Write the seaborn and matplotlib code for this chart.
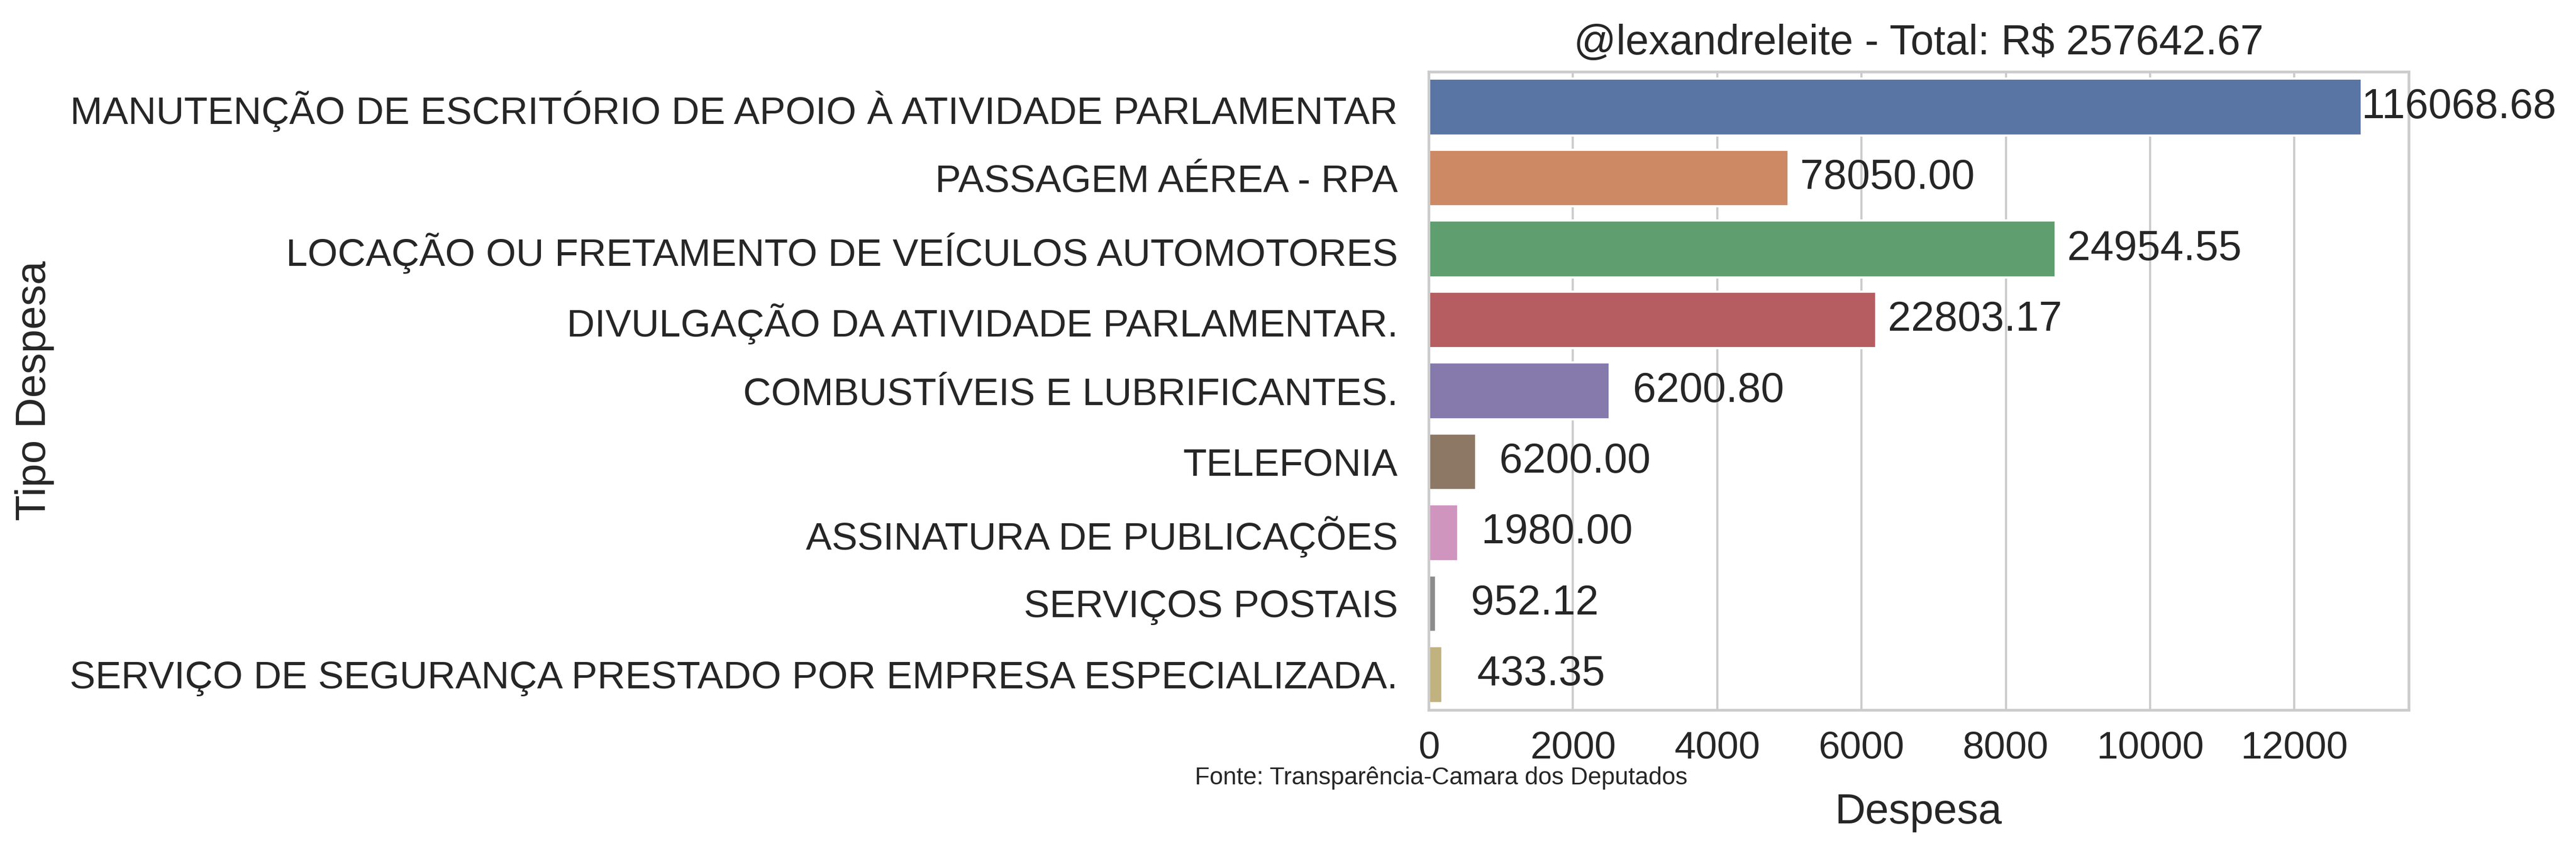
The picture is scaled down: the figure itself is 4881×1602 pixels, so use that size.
import pandas as pd
import seaborn as sns
import matplotlib.pyplot as plt

# expense categories, bar lengths and the totals printed next to them
categorias = [
    "MANUTENÇÃO DE ESCRITÓRIO DE APOIO À ATIVIDADE PARLAMENTAR",
    "PASSAGEM AÉREA - RPA",
    "LOCAÇÃO OU FRETAMENTO DE VEÍCULOS AUTOMOTORES",
    "DIVULGAÇÃO DA ATIVIDADE PARLAMENTAR.",
    "COMBUSTÍVEIS E LUBRIFICANTES.",
    "TELEFONIA",
    "ASSINATURA DE PUBLICAÇÕES",
    "SERVIÇOS POSTAIS",
    "SERVIÇO DE SEGURANÇA PRESTADO POR EMPRESA ESPECIALIZADA.",
]
despesa = [12935, 4992, 8692, 6201, 2511, 656, 406, 102, 187]
totais = [116068.68, 78050.00, 24954.55, 22803.17, 6200.80, 6200.00, 1980.00, 952.12, 433.35]
total_geral = 257642.67

df = pd.DataFrame({"Tipo Despesa": categorias, "Despesa": despesa})

sns.set_theme(style="whitegrid", font_scale=1.6)
plt.rcParams['font.family'] = ['Liberation Sans', 'DejaVu Sans']

fig, ax = plt.subplots(figsize=(16.27, 5.34), dpi=300)
fig.subplots_adjust(left=0.5546, right=0.9350, top=0.9151, bottom=0.1598)

sns.barplot(data=df, x="Despesa", y="Tipo Despesa", hue="Tipo Despesa",
            palette="deep", errorbar=None, legend=False, ax=ax)

# print totals at the end of each bar
for i, p in enumerate(ax.patches):
    ax.text(p.get_width(), p.get_y() + p.get_height() / 2, f"{totais[i]:9.2f}",
            ha="left", va="center", fontsize=19, color="#262626")

ax.set_title(f"@lexandreleite - Total: R\\$ {total_geral:.2f}", fontsize=19, pad=8)
ax.tick_params(axis="both", labelsize=17.6, length=0)
ax.tick_params(axis="x", pad=9.5)
ax.tick_params(axis="y", pad=14)
ax.set_xlabel("Despesa", fontsize=19.3, labelpad=12)
ax.set_ylabel("Tipo Despesa", fontsize=19.3, labelpad=7)

fig.text(2264 / 4881, 1 - 1475 / 1602, "Fonte: Transparência-Camara dos Deputados",
         fontsize=11, va="center", ha="left", color="#262626")

plt.savefig("out.png", dpi=300)
